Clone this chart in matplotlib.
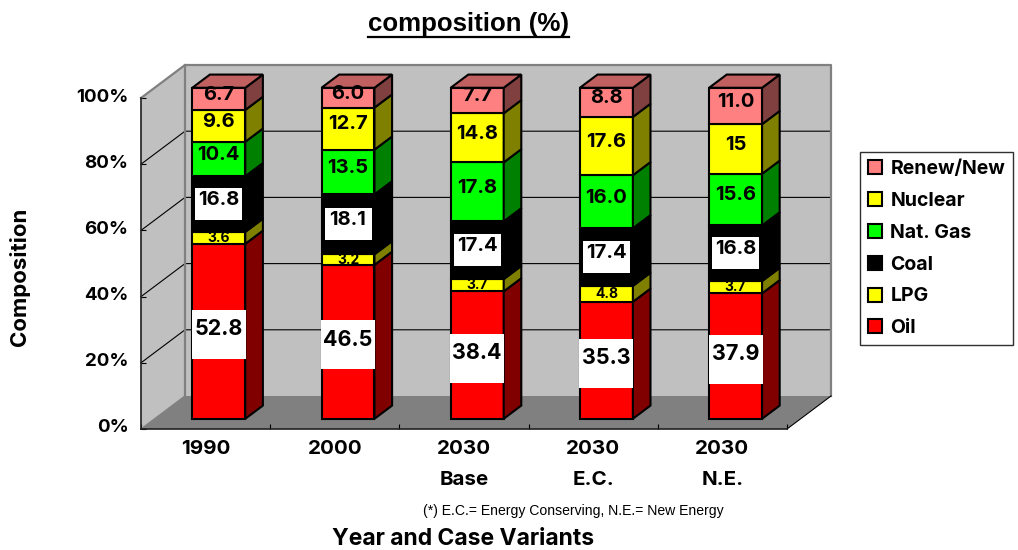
import matplotlib
matplotlib.use("Agg")
import matplotlib.pyplot as plt
import numpy as np
from matplotlib.patches import Polygon, Rectangle
from matplotlib.lines import Line2D
from matplotlib.transforms import ScaledTranslation

# ---- data ----
categories = ["1990", "2000", "2030\nBase", "2030\nE.C.", "2030\nN.E."]
series_names = ["Oil", "LPG", "Coal", "Nat. Gas", "Nuclear", "Renew/New"]
oil = [52.8, 46.5, 38.4, 35.3, 37.9]
lpg = [3.6, 3.2, 3.7, 4.8, 3.7]
coal = [16.8, 18.1, 17.4, 17.4, 16.8]
natgas = [10.4, 13.5, 17.8, 16.0, 15.6]
nuclear = [9.6, 12.7, 14.8, 17.6, 15]
renew = [6.7, 6.0, 7.7, 8.8, 11.0]
label_text = {
    "Nuclear": ["9.6", "12.7", "14.8", "17.6", "15"],
}
y_ticks = [0, 20, 40, 60, 80, 100]
y_tick_labels = ["0%", "20%", "40%", "60%", "80%", "100%"]

# ---- style ----
face = ["#FF0000", "#FFFF00", "#000000", "#00FF00", "#FFFF00", "#FF8080"]
side = ["#800000", "#808000", "#000000", "#008000", "#808000", "#804040"]
TOP = "#C06060"
WALL = "#C0C0C0"
FLOOR = "#808080"
HEAD = "Inter"
BODY = "Liberation Sans"

W, H = 1018, 550
fig = plt.figure(figsize=(W / 100, H / 100), dpi=100, facecolor="white")
ax = fig.add_axes([141 / W, (H - 429) / H, (787 - 141) / W, (429 - 98) / H])
ax.set_xlim(0.5, 5.5)
ax.set_ylim(0, 100)
ax.patch.set_visible(False)

DX, DY = 44 / 129.2, 33 / 3.31   # chart depth in data units
BW = 0.41


def poly(pts, fc, ec="none", lw=0, z=1):
    ax.add_patch(Polygon(pts, closed=True, fc=fc, ec=ec, lw=lw, zorder=z,
                         clip_on=False, joinstyle="miter"))


# walls and floor
poly([(.5, 0), (.5 + DX, DY), (.5 + DX, 100 + DY), (.5, 100)], WALL)
poly([(.5 + DX, DY), (5.5 + DX, DY), (5.5 + DX, 100 + DY), (.5 + DX, 100 + DY)], WALL)
poly([(.5, 0), (5.5, 0), (5.5 + DX, DY), (.5 + DX, DY)], FLOOR)
for t in y_ticks[1:-1]:
    ax.plot([.5, .5 + DX, 5.5 + DX], [t, t + DY, t + DY], color="black", lw=0.8,
            zorder=1.5, clip_on=False)
ax.plot([.5, .5 + DX, 5.5 + DX, 5.5 + DX], [100, 100 + DY, 100 + DY, DY],
        color="#808080", lw=1.6, zorder=1.6, clip_on=False)
ax.plot([.5 + DX, .5 + DX], [DY, 100 + DY], color="#808080", lw=1.6, zorder=1.6, clip_on=False)
ax.plot([.5, .5 + DX], [0, DY], color="#808080", lw=1.0, zorder=1.6, clip_on=False)
ax.plot([5.5, 5.5 + DX], [0, DY], color="black", lw=0.8, zorder=1.6, clip_on=False)

# stacked bars
rows = np.array([oil, lpg, coal, natgas, nuclear, renew], dtype=float)
shares = rows / rows.sum(axis=0) * 100
near_x, near_y = 0.3 * DX, 0.31 * DY
off_x, off_y = 0.4 * DX, 0.4 * DY
xs = np.arange(1, 6, dtype=float)
base = np.zeros(5)
for s, name in enumerate(series_names):
    ax.bar(xs + near_x, shares[s], BW, bottom=base + near_y, color=face[s],
           edgecolor="black", linewidth=1.5, zorder=3 + 0.01 * s, clip_on=False,
           label=name)
    for i in range(5):
        x1 = xs[i] + near_x + BW / 2
        y0 = base[i] + near_y
        y1 = y0 + shares[s, i]
        poly([(x1, y0), (x1 + off_x, y0 + off_y), (x1 + off_x, y1 + off_y), (x1, y1)],
             side[s], "black", 1.5, 3 + 0.01 * s)
        if s == len(series_names) - 1:
            x0 = x1 - BW
            poly([(x0, y1), (x1, y1), (x1 + off_x, y1 + off_y), (x0 + off_x, y1 + off_y)],
                 TOP, "black", 1.5, 3.2)
    # value labels
    for i in range(5):
        val = rows[s, i]
        txt = label_text.get(name, [f"{v:.1f}" for v in rows[s]])[i]
        xc = xs[i] + near_x
        yc = base[i] + near_y + shares[s, i] / 2
        small = val < 5
        big = name == "Oil"
        if name in ("Oil", "Coal"):
            bw = 54 / 129.2 if big else 47 / 129.2
            bh = 49 / 3.31 if big else 32 / 3.31
            ym = yc - 0.9 if big else yc
            ax.add_patch(Rectangle((xc - bw / 2, ym - bh / 2), bw, bh, fc="white", ec="none",
                                   zorder=4, clip_on=False))
        ax.annotate(txt, (xc, yc), xytext=(0, 0 if small else (1.5 if big else 3)),
                    textcoords="offset points",
                    ha="center", va="center", family=HEAD, weight="bold", color="black",
                    fontsize=10 if small else (15.5 if big else 14.5), zorder=5,
                    annotation_clip=False)
    base += shares[s]

# axes furniture
for sp in ("top", "right"):
    ax.spines[sp].set_visible(False)
for sp in ("left", "bottom"):
    ax.spines[sp].set_color("#202020")
    ax.spines[sp].set_linewidth(1.2)
    ax.spines[sp].set_zorder(2)
ax.set_yticks(y_ticks)
ax.set_yticklabels(y_tick_labels, family=HEAD, weight="bold", fontsize=13.5, va="center")
ax.tick_params(axis="y", direction="in", length=3.5, width=0.8, pad=9)
up = ScaledTranslation(0, 1 / 100, fig.dpi_scale_trans)
for lab in ax.get_yticklabels():
    lab.set_transform(lab.get_transform() + up)
ax.set_xticks(np.arange(0.5, 6.0, 1.0))
ax.set_xticklabels([])
ax.tick_params(axis="x", which="major", direction="in", length=3.5, width=0.8)
ax.set_xticks(xs, minor=True)
ax.set_xticklabels(categories, minor=True, family=HEAD, weight="bold", fontsize=14.8,
                   linespacing=1.9)
ax.tick_params(axis="x", which="minor", length=0, pad=8)

# texts
fig.text(468.5 / W, 1 - 24 / H, "composition (%)", family=BODY, weight="bold", fontsize=18.6,
         ha="center", va="center")
fig.add_artist(Line2D([368 / W, 569 / W], [1 - 37 / H, 1 - 37 / H], color="black", lw=1.6))
fig.text(573.5 / W, 1 - 511 / H, "(*) E.C.= Energy Conserving, N.E.= New Energy", family=BODY,
         fontsize=10.1, ha="center", va="center")
fig.text(463 / W, 1 - 539 / H, "Year and Case Variants", family=HEAD, weight="bold",
         fontsize=16.5, ha="center", va="center")
fig.text(20 / W, 1 - 277 / H, "Composition", family=HEAD, weight="bold", fontsize=16,
         rotation=90, ha="center", va="center")

# legend
handles, labels = ax.get_legend_handles_labels()
leg = fig.legend(handles[::-1], labels[::-1], loc="upper left",
                 bbox_to_anchor=(860 / W, 1 - 152 / H), bbox_transform=fig.transFigure,
                 borderaxespad=0, fancybox=False, framealpha=1, edgecolor="#303030",
                 prop={"family": HEAD, "weight": "bold", "size": 14},
                 handlelength=0.72, handleheight=0.72, handletextpad=0.42,
                 labelspacing=0.71, borderpad=0.42)
leg.get_frame().set_linewidth(1.0)

fig.savefig("out.png", dpi=100, facecolor="white")
